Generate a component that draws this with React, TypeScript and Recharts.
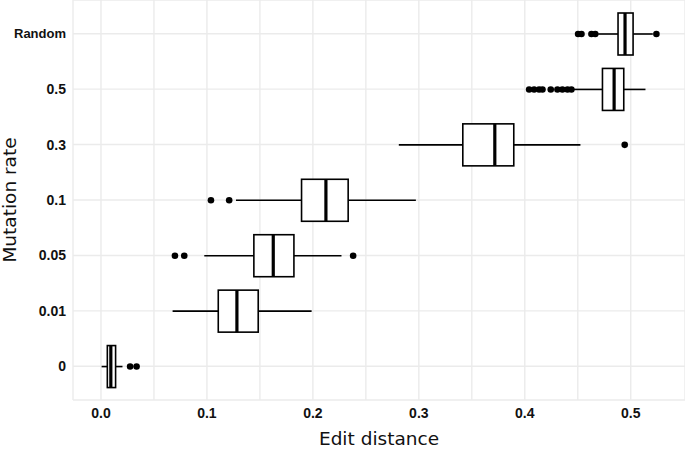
import { ComposedChart, Bar, XAxis, YAxis, CartesianGrid } from 'recharts';

const categories = ['Random', '0.5', '0.3', '0.1', '0.05', '0.01', '0'];
const lowerWhisker = [0.4692, 0.4456, 0.2811, 0.1274, 0.0975, 0.0676, 0.0006];
const q1 = [0.488, 0.4733, 0.3415, 0.1893, 0.1443, 0.1107, 0.006];
const median = [0.4946, 0.4843, 0.3717, 0.2123, 0.1626, 0.1283, 0.0093];
const q3 = [0.5022, 0.4934, 0.3896, 0.2333, 0.1821, 0.1484, 0.0138];
const upperWhisker = [0.5208, 0.5139, 0.4525, 0.2972, 0.227, 0.1988, 0.0203];
const outliers = [
  [0.4503, 0.4535, 0.4629, 0.4665, 0.5242],
  [0.4041, 0.4088, 0.4135, 0.4167, 0.4245, 0.4308, 0.4355, 0.4403, 0.444],
  [0.4943],
  [0.1038, 0.121],
  [0.0698, 0.0786, 0.238],
  [],
  [0.0275, 0.0336],
];
const xTicks = [0, 0.05, 0.1, 0.15, 0.2, 0.25, 0.3, 0.35, 0.4, 0.45, 0.5];
const xLabels = [0, 0.1, 0.2, 0.3, 0.4, 0.5];

const data = categories.map((name, i) => ({
  name,
  box: [q1[i], q3[i]],
  lo: lowerWhisker[i],
  q1: q1[i],
  med: median[i],
  q3: q3[i],
  hi: upperWhisker[i],
  outliers: outliers[i],
}));

const tickStyle = { fontSize: 14, fontWeight: 'bold', fill: '#111', fontFamily: 'Liberation Sans' };

function YTick(props: any) {
  const { x, y, payload } = props;
  const isWord = payload.value === 'Random';
  return (
    <text
      x={x}
      y={y}
      dy="0.355em"
      textAnchor="end"
      fontSize={isWord ? 13 : 14}
      fontWeight="bold"
      fontFamily="Liberation Sans"
      fill="#111"
    >
      {payload.value}
    </text>
  );
}

function BoxShape(props: any) {
  const { x, y, width, height } = props;
  const p = props.payload ?? props;
  const k = width / (p.q3 - p.q1);
  const px = (v: number) => x + (v - p.q1) * k;
  const cy = y + height / 2;
  return (
    <g>
      <line x1={px(p.lo)} x2={x} y1={cy} y2={cy} stroke="#000" strokeWidth={1.6} />
      <line x1={x + width} x2={px(p.hi)} y1={cy} y2={cy} stroke="#000" strokeWidth={1.6} />
      <rect x={x} y={y} width={width} height={height} fill="#fff" stroke="#000" strokeWidth={1.6} />
      <line x1={px(p.med)} x2={px(p.med)} y1={y} y2={y + height} stroke="#000" strokeWidth={3.2} />
      {p.outliers.map((v: number, i: number) => (
        <circle key={i} cx={px(v)} cy={cy} r={3.3} fill="#000" />
      ))}
    </g>
  );
}

export default function App() {
  return (
    <div style={{ position: 'absolute', left: 0, top: 0 }}>
      <ComposedChart
        width={685}
        height={449}
        data={data}
        layout="vertical"
        margin={{ top: 0, right: 0, bottom: 0, left: 0 }}
      >
        <CartesianGrid stroke="#ebebeb" strokeWidth={1.4} />
        <XAxis
          type="number"
          domain={[-0.0264, 0.5512]}
          allowDataOverflow
          ticks={xTicks}
          tickFormatter={(v: number) => (xLabels.some((l) => Math.abs(l - v) < 1e-9) ? v.toFixed(1) : '')}
          axisLine={false}
          tickLine={false}
          height={49}
          tick={tickStyle}
          label={{
            content: ({ viewBox }: any) => (
              <text
                x={viewBox.x + viewBox.width / 2}
                y={445}
                textAnchor="middle"
                fontSize={18.5}
                fontFamily="DejaVu Sans"
                fill="#111"
              >
                Edit distance
              </text>
            ),
          }}
        />
        <YAxis
          type="category"
          dataKey="name"
          width={73}
          axisLine={false}
          tickLine={false}
          tickMargin={1}
          padding={{ top: 6, bottom: 6 }}
          tick={<YTick />}
          label={{
            content: ({ viewBox }: any) => {
              const cy = viewBox.y + viewBox.height / 2;
              return (
                <text
                  x={16}
                  y={cy}
                  transform={`rotate(-90, 16, ${cy})`}
                  textAnchor="middle"
                  fontSize={18.5}
                  fontFamily="DejaVu Sans"
                  fill="#111"
                >
                  Mutation rate
                </text>
              );
            },
          }}
        />
        <Bar dataKey="box" barSize={42} shape={BoxShape} isAnimationActive={false} />
      </ComposedChart>
    </div>
  );
}
